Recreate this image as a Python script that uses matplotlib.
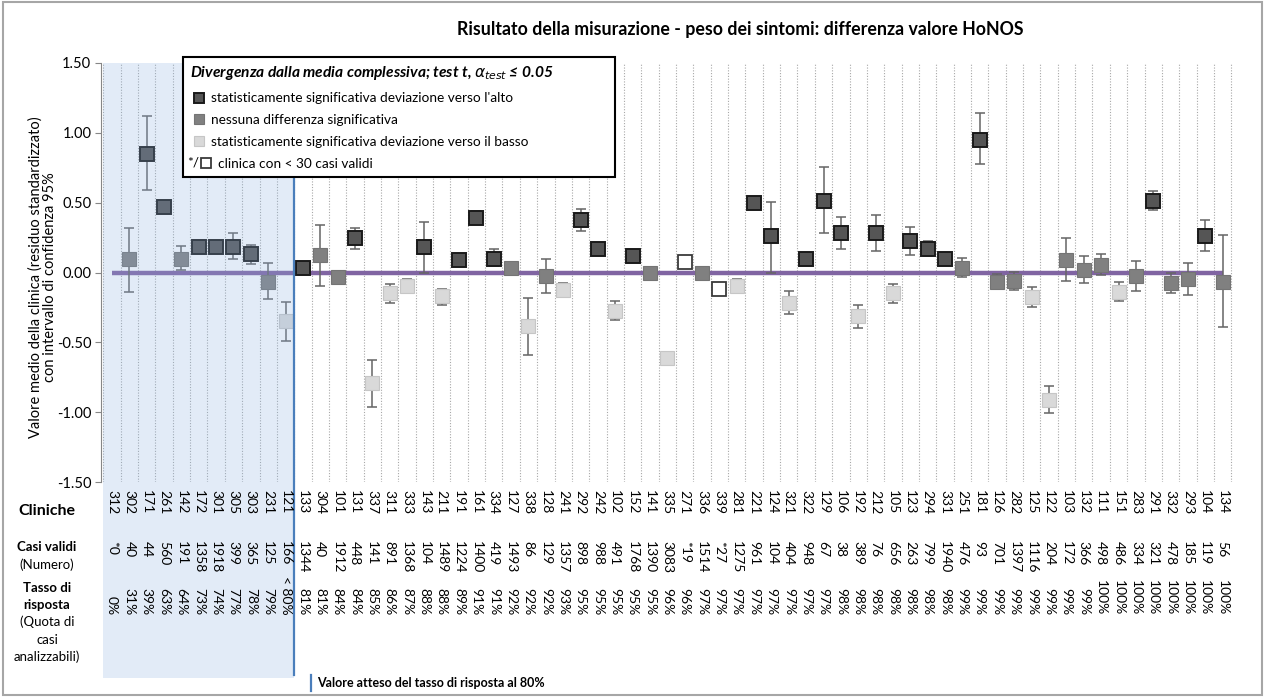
import numpy as np
import matplotlib
matplotlib.use('Agg')
import matplotlib.pyplot as plt
from matplotlib.lines import Line2D
from matplotlib.patches import Rectangle
from matplotlib.text import Text
from matplotlib.transforms import blended_transform_factory
from matplotlib.legend_handler import HandlerBase

plt.rcParams['font.family'] = ['Lato', 'DejaVu Sans']

nan = np.nan

# cliniche, casi validi e tasso di risposta (etichette sotto il grafico)
clinics = ['312', '302', '171', '261', '142', '172', '301', '305', '303', '231',
           '121', '133', '304', '101', '131', '337', '311', '333', '143', '211',
           '191', '161', '334', '127', '338', '128', '241', '292', '242', '102',
           '152', '141', '335', '271', '336', '339', '281', '221', '124', '321',
           '322', '129', '106', '192', '212', '105', '123', '294', '331', '251',
           '181', '126', '282', '125', '122', '103', '132', '111', '151', '283',
           '291', '332', '293', '104', '134']
casi = ['*0', '40', '44', '560', '191', '1358', '1918', '399', '365', '125',
        '166', '1344', '40', '1912', '448', '141', '891', '1368', '104', '1489',
        '1224', '1400', '419', '1493', '86', '129', '1357', '898', '988', '491',
        '1768', '1390', '3083', '*19', '1514', '*27', '1275', '961', '104', '404',
        '948', '67', '38', '389', '76', '656', '263', '799', '1940', '476',
        '93', '701', '1397', '1116', '204', '172', '366', '498', '486', '334',
        '321', '478', '185', '119', '56']
tasso = ['0%', '31%', '39%', '63%', '64%', '73%', '74%', '77%', '78%', '79%',
         '< 80%', '81%', '81%', '84%', '84%', '85%', '86%', '87%', '88%', '88%',
         '89%', '91%', '91%', '92%', '92%', '92%', '93%', '95%', '95%', '95%',
         '95%', '95%', '96%', '96%', '97%', '97%', '97%', '97%', '97%', '97%',
         '97%', '97%', '98%', '98%', '98%', '98%', '98%', '98%', '98%', '99%',
         '99%', '99%', '99%', '99%', '99%', '99%', '99%', '100%', '100%', '100%',
         '100%', '100%', '100%', '100%', '100%']

# valore medio (residuo standardizzato) e intervallo di confidenza 95%
valore = [nan, 0.095, 0.85, 0.47, 0.095, 0.18, 0.185, 0.185, 0.13, -0.065,
          -0.35, 0.03, 0.125, -0.03, 0.245, -0.79, -0.15, -0.095, 0.185, -0.17,
          0.09, 0.39, 0.10, 0.033, -0.385, -0.025, -0.125, 0.375, 0.17, -0.275,
          0.115, 0.0, -0.61, 0.075, 0.0, -0.115, -0.10, 0.495, 0.26, -0.215,
          0.10, 0.51, 0.28, -0.315, 0.28, -0.15, 0.225, 0.165, 0.10, 0.035,
          0.95, -0.065, -0.06, -0.175, -0.91, 0.09, 0.02, 0.055, -0.14, -0.025,
          0.51, -0.075, -0.05, 0.26, -0.065]
ci_low = [nan, -0.14, 0.59, 0.45, 0.02, 0.16, 0.165, 0.095, 0.06, -0.19,
          -0.49, 0.005, -0.10, -0.06, 0.17, -0.96, -0.22, -0.13, 0.0, -0.23,
          0.07, 0.35, 0.045, 0.01, -0.59, -0.15, -0.17, 0.295, 0.13, -0.34,
          0.08, -0.03, -0.635, nan, -0.03, nan, -0.15, 0.47, 0.0, -0.30,
          0.065, 0.28, 0.17, -0.40, 0.155, -0.215, 0.125, 0.12, 0.075, -0.03,
          0.775, -0.12, -0.125, -0.245, -1.005, -0.06, -0.075, -0.015, -0.205, -0.13,
          0.45, -0.145, -0.16, 0.155, -0.39]
ci_high = [nan, 0.32, 1.12, 0.50, 0.19, 0.20, 0.205, 0.28, 0.20, 0.065,
           -0.21, 0.055, 0.34, 0.0, 0.32, -0.63, -0.08, -0.05, 0.36, -0.115,
           0.11, 0.44, 0.165, 0.055, -0.18, 0.10, -0.075, 0.455, 0.21, -0.205,
           0.155, 0.03, -0.585, nan, 0.03, nan, -0.05, 0.525, 0.505, -0.13,
           0.14, 0.755, 0.40, -0.235, 0.41, -0.085, 0.325, 0.225, 0.13, 0.105,
           1.145, -0.01, 0.005, -0.105, -0.81, 0.245, 0.115, 0.13, -0.07, 0.085,
           0.585, -0.005, 0.07, 0.375, 0.265]
# a = deviazione verso l'alto, n = nessuna differenza, b = verso il basso, p = < 30 casi
categoria = ['n', 'n', 'a', 'a', 'n', 'a', 'a', 'a', 'a', 'n',
             'b', 'a', 'n', 'n', 'a', 'b', 'b', 'b', 'a', 'b',
             'a', 'a', 'a', 'n', 'b', 'n', 'b', 'a', 'a', 'b',
             'a', 'n', 'b', 'p', 'n', 'p', 'b', 'a', 'a', 'b',
             'a', 'a', 'a', 'b', 'a', 'b', 'a', 'a', 'a', 'n',
             'a', 'n', 'n', 'b', 'b', 'n', 'n', 'n', 'b', 'n',
             'a', 'n', 'n', 'a', 'n']
media_complessiva = [0.0] * len(clinics)

stili = {
    'a': dict(mfc='#555555', mec='#1a1a1a', mew=1.4),
    'n': dict(mfc='#808080', mec='#747474', mew=0.8),
    'b': dict(mfc='#d9d9d9', mec='#c6c6c6', mew=0.8),
    'p': dict(mfc='white', mec='#3a3a3a', mew=1.3),
}

W, H = 1266, 697
def fy(py):
    return 1 - py / H

fig = plt.figure(figsize=(W / 100, H / 100), dpi=100)
ax = fig.add_axes([101 / W, fy(482), (1240 - 101) / W, (482 - 63) / H])

n = len(clinics)
x = np.arange(n)
val = np.array(valore)
lo = np.array(ci_low)
hi = np.array(ci_high)
cat = np.array(categoria)

# linea della media complessiva
ax.plot(x, media_complessiva, color='#8064a2', lw=3.2, zorder=2, solid_capstyle='butt')

ax.errorbar(x, val, yerr=[val - lo, hi - val], fmt='none', ecolor='#656565',
            elinewidth=1.1, capsize=3.5, capthick=1.1, zorder=3)
for c, st in stili.items():
    m = cat == c
    ax.plot(x[m], val[m], ls='', marker='s', ms=9.5, zorder=4, **st)

ax.set_xlim(-0.634, 65.0)
ax.set_ylim(-1.5, 1.5)
ax.set_yticks(np.arange(-1.5, 1.51, 0.5))
ax.set_yticklabels(['%.2f' % v for v in np.arange(-1.5, 1.51, 0.5)], fontsize=10.5)
ax.set_xticks([])
ax.set_xticks(np.arange(-0.5, n, 1), minor=True)
ax.grid(axis='x', which='minor', ls=(0, (1, 1.5)), color='#a8a8a8', lw=0.8)
ax.tick_params(axis='x', which='both', length=0, labelbottom=False)
ax.tick_params(axis='y', direction='out', length=4, color='#868686', pad=3)
for s in ['top', 'right', 'bottom']:
    ax.spines[s].set_visible(False)
ax.spines['left'].set_color('#868686')

ax.set_ylabel('Valore medio della clinica (residuo standardizzato)\ncon intervallo di confidenza 95%',
              fontsize=10.5, linespacing=1.05)
ax.yaxis.set_label_coords(-0.0385, 0.49)

# zona con tasso di risposta sotto l'80%
n_sotto = sum(1 for t in tasso if t.startswith('<') or int(t.rstrip('%')) < 80)
trans = blended_transform_factory(ax.transData, fig.transFigure)
ax.add_patch(Rectangle((-0.5, fy(678)), n_sotto, fy(63) - fy(678), transform=trans,
                       facecolor='#8db3e2', alpha=0.25, lw=0, zorder=6, clip_on=False))
ax.add_line(Line2D([n_sotto - 0.5, n_sotto - 0.5], [fy(675), fy(63)], transform=trans,
                   color='#4a7ebb', lw=1.6, zorder=7, clip_on=False))

for i in range(n):
    ax.text(i, fy(490), clinics[i], rotation=-90, ha='center', va='top', fontsize=10,
            transform=trans, clip_on=False, zorder=10)
    ax.text(i, fy(541), casi[i], rotation=-90, ha='center', va='top', fontsize=10,
            transform=trans, clip_on=False, zorder=10)
    ax.text(i, fy(615), tasso[i], rotation=-90, ha='center', va='bottom', fontsize=10,
            transform=trans, clip_on=False, zorder=10)

fig.text(47 / W, fy(511), 'Cliniche', ha='center', va='center', fontsize=11.5, fontweight='bold')
fig.text(47 / W, fy(547), 'Casi validi', ha='center', va='center', fontsize=9.5, fontweight='bold')
fig.text(47 / W, fy(565), '(Numero)', ha='center', va='center', fontsize=9.5)
fig.text(47 / W, fy(588), 'Tasso di', ha='center', va='center', fontsize=9.5, fontweight='bold')
fig.text(47 / W, fy(605), 'risposta', ha='center', va='center', fontsize=9.5, fontweight='bold')
fig.text(47 / W, fy(622), '(Quota di', ha='center', va='center', fontsize=9.5)
fig.text(47 / W, fy(640), 'casi', ha='center', va='center', fontsize=9.5)
fig.text(47 / W, fy(657), 'analizzabili)', ha='center', va='center', fontsize=9.5)

fig.add_artist(Line2D([311 / W, 311 / W], [fy(691), fy(675)], color='#4a7ebb', lw=1.6))
fig.text(317 / W, fy(683), "Valore atteso del tasso di risposta al 80%", ha='left', va='center',
         fontsize=9, fontweight='bold')

fig.text(740 / W, fy(30), 'Risultato della misurazione - peso dei sintomi: differenza valore HoNOS',
         ha='center', va='center', fontsize=12.8, fontweight='bold')


class HandlerPochi(HandlerBase):
    def create_artists(self, legend, orig_handle, xdescent, ydescent, width, height, fontsize, trans):
        cx = -xdescent + width / 2 + 5
        cy = -ydescent + height / 2
        t = Text(cx - 5, cy, '*/', fontsize=fontsize, ha='right', va='center', transform=trans)
        sq = Line2D([cx], [cy], ls='', marker='s', ms=7.5, transform=trans, **stili['p'])
        return [t, sq]


class Pochi:
    pass


handles = [Line2D([], [], ls='', marker='s', ms=7.5, **stili['a']),
           Line2D([], [], ls='', marker='s', ms=7.5, **stili['n']),
           Line2D([], [], ls='', marker='s', ms=7.5, **stili['b']),
           Pochi()]
labels = ["statisticamente significativa deviazione verso l'alto",
          'nessuna differenza significativa',
          'statisticamente significativa deviazione verso il basso',
          '  clinica con < 30 casi validi']
x0 = (183 - 101) / 1139
leg = ax.legend(handles, labels, handler_map={Pochi: HandlerPochi()},
                loc='upper left', bbox_to_anchor=(x0, 0.0, (615 - 183) / 1139, (482 - 57) / 419),
                mode='expand', title=r'Divergenza dalla media complessiva; test t, $\alpha_{test}$ ≤ 0.05',
                fontsize=9.8, title_fontsize=11.2, alignment='left', frameon=True, fancybox=False,
                edgecolor='black', framealpha=1, handlelength=1.2, handletextpad=0.3,
                borderpad=0.55, labelspacing=0.72, borderaxespad=0)
leg.get_frame().set_linewidth(1.5)
leg.get_title().set_fontstyle('italic')
leg.get_title().set_fontweight('bold')
leg.set_zorder(20)

fig.add_artist(Rectangle((0.002, 0.003), 0.995, 0.994, transform=fig.transFigure,
                         fill=False, edgecolor='#a6a6a6', lw=1.5))

fig.savefig('out.png', dpi=100)
